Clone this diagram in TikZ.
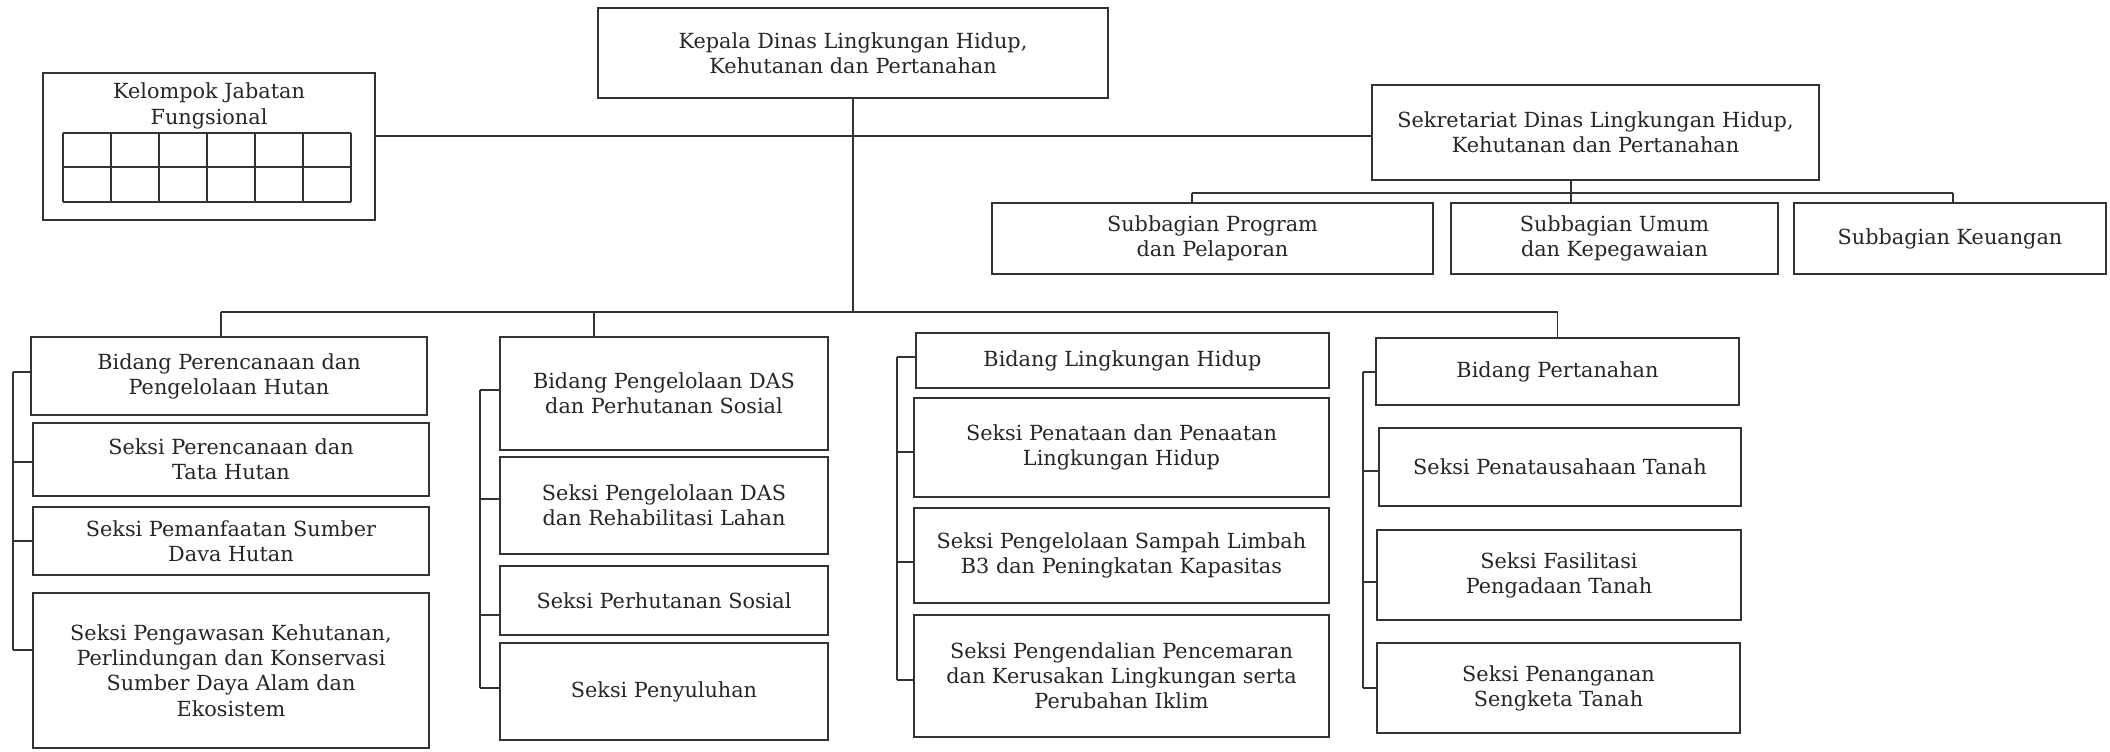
\documentclass[tikz,border=0pt]{standalone}
\usepackage{fontspec}
\setmainfont{DejaVu Serif}
\tikzset{
  ob/.style={draw=black!80, line width=0.8pt, inner sep=0pt, outer sep=0pt, align=center,
    font=\fontsize{10.4}{12.6}\selectfont, text=black!85},
  ln/.style={draw=black!80, line width=0.8pt},
}
\newcommand\ob[7][]{\node[ob,#1, minimum width={(#5-#3)*0.5pt}, minimum height={(#6-#4)*0.5pt}] (#2) at ({(#3+#5)/2},{(#4+#6)/2}) {#7};}
\begin{document}
\begin{tikzpicture}[x=0.5pt,y=-0.5pt]
\useasboundingbox (0,0) rectangle (2110,751);
% top level
\ob{kep}{598}{8}{1108}{98}{Kepala Dinas Lingkungan Hidup,\\Kehutanan dan Pertanahan}
\ob{kel}{43}{73}{375}{220}{}
\node[font=\fontsize{10.4}{12.6}\selectfont, text=black!85, align=center, inner sep=0pt] (kelt) at (209,106) {Kelompok Jabatan\\Fungsional};
\foreach \i in {0,...,6} \draw[ln] ({63+\i*48},133) -- ({63+\i*48},202);
\foreach \yy in {133,167,202} \draw[ln] (63,\yy) -- (351,\yy);
\ob{sek}{1372}{85}{1819}{180}{Sekretariat Dinas Lingkungan Hidup,\\Kehutanan dan Pertanahan}
\ob{sb1}{992}{203}{1433}{274}{Subbagian Program\\dan Pelaporan}
\ob{sb2}{1451}{203}{1778}{274}{Subbagian Umum\\dan Kepegawaian}
\ob{sb3}{1794}{203}{2106}{274}{Subbagian Keuangan}
% column 1
\ob{b11}{31}{337}{427}{415}{Bidang Perencanaan dan\\Pengelolaan Hutan}
\ob{b12}{33}{423}{429}{496}{Seksi Perencanaan dan\\Tata Hutan}
\ob{b13}{33}{507}{429}{575}{Seksi Pemanfaatan Sumber\\Dava Hutan}
\ob{b14}{33}{593}{429}{748}{Seksi Pengawasan Kehutanan,\\Perlindungan dan Konservasi\\Sumber Daya Alam dan\\Ekosistem}
% column 2
\ob{b21}{500}{337}{828}{450}{Bidang Pengelolaan DAS\\dan Perhutanan Sosial}
\ob{b22}{500}{457}{828}{554}{Seksi Pengelolaan DAS\\dan Rehabilitasi Lahan}
\ob{b23}{500}{566}{828}{635}{Seksi Perhutanan Sosial}
\ob{b24}{500}{643}{828}{740}{Seksi Penyuluhan}
% column 3
\ob{b31}{916}{333}{1329}{388}{Bidang Lingkungan Hidup}
\ob{b32}{914}{398}{1329}{497}{Seksi Penataan dan Penaatan\\Lingkungan Hidup}
\ob{b33}{914}{508}{1329}{603}{Seksi Pengelolaan Sampah Limbah\\B3 dan Peningkatan Kapasitas}
\ob{b34}{914}{615}{1329}{737}{Seksi Pengendalian Pencemaran\\dan Kerusakan Lingkungan serta\\Perubahan Iklim}
% column 4
\ob{b41}{1376}{338}{1739}{405}{Bidang Pertanahan}
\ob{b42}{1379}{428}{1741}{506}{Seksi Penatausahaan Tanah}
\ob{b43}{1377}{530}{1741}{620}{Seksi Fasilitasi\\Pengadaan Tanah}
\ob{b44}{1377}{643}{1740}{733}{Seksi Penanganan\\Sengketa Tanah}
% connectors, top
\coordinate (hl) at (0,136);
\draw[ln] (kel.east |- hl) -- (sek.west |- hl);
\coordinate (bus) at (0,312);
\draw[ln] (kep.south) -- (kep.south |- bus);
\coordinate (d1) at (221,312);
\coordinate (d2) at (594,312);
\draw[ln] (d1) -- (b41.north |- bus);
\draw[ln] (d1) -- (d1 |- b11.north);
\draw[ln] (d2) -- (d2 |- b21.north);
\draw[ln] (b41.north |- bus) -- (b41.north);
% sekretariat
\coordinate (s0) at (1571,193);
\coordinate (sL) at (1192,193);
\coordinate (sR) at (1953,193);
\draw[ln] (sek.south -| s0) -- (s0 |- sb2.north);
\draw[ln] (sL) -- (sR);
\draw[ln] (sL) -- (sL |- sb1.north);
\draw[ln] (sR) -- (sR |- sb3.north);
% brackets
\draw[ln] (13,372) -- (13,650);
\foreach \nn/\yy in {1/372,2/462,3/541,4/650} \draw[ln] (13,\yy) -- (b1\nn.west |- 0,\yy);
\draw[ln] (480,390) -- (480,688);
\foreach \nn/\yy in {1/390,2/499,3/615,4/688} \draw[ln] (480,\yy) -- (b2\nn.west |- 0,\yy);
\draw[ln] (897,357) -- (897,680);
\foreach \nn/\yy in {1/357,2/452,3/562,4/680} \draw[ln] (897,\yy) -- (b3\nn.west |- 0,\yy);
\draw[ln] (1363,372) -- (1363,688);
\foreach \nn/\yy in {1/372,2/471,3/582,4/688} \draw[ln] (1363,\yy) -- (b4\nn.west |- 0,\yy);
\end{tikzpicture}
\end{document}
